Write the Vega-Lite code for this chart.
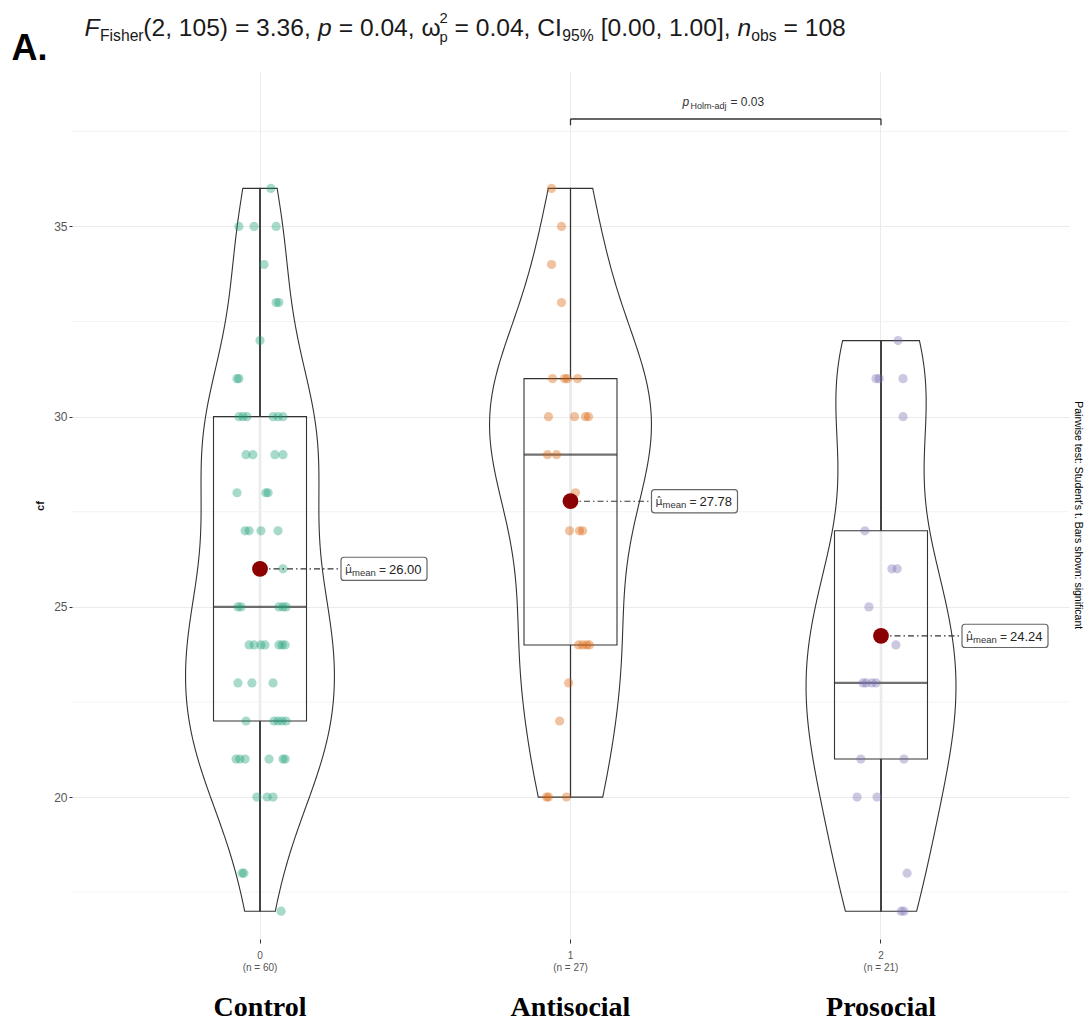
{
"$schema": "https://vega.github.io/schema/vega-lite/v6.json",
"background": "white",
"autosize": {"type": "none"},
"padding": {"left": 72, "top": 72, "right": 23, "bottom": 83},
"width": 997,
"height": 867,
"config": {"view": {"stroke": null}},
"datasets": {
"pts": [
{"group":"0","cf":36,"jit":0.035},
{"group":"0","cf":35,"jit":-0.068},{"group":"0","cf":35,"jit":-0.019},{"group":"0","cf":35,"jit":0.052},
{"group":"0","cf":34,"jit":0.013},
{"group":"0","cf":33,"jit":0.052},{"group":"0","cf":33,"jit":0.061},
{"group":"0","cf":32,"jit":0.0},
{"group":"0","cf":31,"jit":-0.074},{"group":"0","cf":31,"jit":-0.068},
{"group":"0","cf":30,"jit":-0.068},{"group":"0","cf":30,"jit":-0.055},{"group":"0","cf":30,"jit":-0.042},{"group":"0","cf":30,"jit":0.042},{"group":"0","cf":30,"jit":0.058},{"group":"0","cf":30,"jit":0.074},
{"group":"0","cf":29,"jit":-0.045},{"group":"0","cf":29,"jit":-0.023},{"group":"0","cf":29,"jit":0.048},{"group":"0","cf":29,"jit":0.074},
{"group":"0","cf":28,"jit":-0.074},{"group":"0","cf":28,"jit":0.019},{"group":"0","cf":28,"jit":0.026},
{"group":"0","cf":27,"jit":-0.048},{"group":"0","cf":27,"jit":-0.035},{"group":"0","cf":27,"jit":0.003},{"group":"0","cf":27,"jit":0.058},
{"group":"0","cf":26,"jit":0.074},
{"group":"0","cf":25,"jit":-0.071},{"group":"0","cf":25,"jit":-0.061},{"group":"0","cf":25,"jit":0.061},{"group":"0","cf":25,"jit":0.074},{"group":"0","cf":25,"jit":0.084},
{"group":"0","cf":24,"jit":-0.035},{"group":"0","cf":24,"jit":-0.019},{"group":"0","cf":24,"jit":0.003},{"group":"0","cf":24,"jit":0.016},{"group":"0","cf":24,"jit":0.061},{"group":"0","cf":24,"jit":0.071},{"group":"0","cf":24,"jit":0.081},
{"group":"0","cf":23,"jit":-0.071},{"group":"0","cf":23,"jit":-0.026},{"group":"0","cf":23,"jit":0.042},
{"group":"0","cf":22,"jit":-0.045},{"group":"0","cf":22,"jit":0.045},{"group":"0","cf":22,"jit":0.058},{"group":"0","cf":22,"jit":0.071},{"group":"0","cf":22,"jit":0.084},
{"group":"0","cf":21,"jit":-0.077},{"group":"0","cf":21,"jit":-0.065},{"group":"0","cf":21,"jit":-0.048},{"group":"0","cf":21,"jit":0.029},{"group":"0","cf":21,"jit":0.074},{"group":"0","cf":21,"jit":0.081},
{"group":"0","cf":20,"jit":-0.01},{"group":"0","cf":20,"jit":0.023},{"group":"0","cf":20,"jit":0.042},
{"group":"0","cf":18,"jit":-0.058},{"group":"0","cf":18,"jit":-0.052},
{"group":"0","cf":17,"jit":0.068},
{"group":"1","cf":36,"jit":-0.061},
{"group":"1","cf":35,"jit":-0.029},
{"group":"1","cf":34,"jit":-0.061},
{"group":"1","cf":33,"jit":-0.029},
{"group":"1","cf":31,"jit":-0.058},{"group":"1","cf":31,"jit":-0.019},{"group":"1","cf":31,"jit":-0.01},{"group":"1","cf":31,"jit":0.023},
{"group":"1","cf":30,"jit":-0.071},{"group":"1","cf":30,"jit":0.013},{"group":"1","cf":30,"jit":0.048},{"group":"1","cf":30,"jit":0.058},
{"group":"1","cf":29,"jit":-0.074},{"group":"1","cf":29,"jit":-0.045},
{"group":"1","cf":28,"jit":0.016},
{"group":"1","cf":27,"jit":-0.003},{"group":"1","cf":27,"jit":0.029},{"group":"1","cf":27,"jit":0.039},
{"group":"1","cf":24,"jit":0.026},{"group":"1","cf":24,"jit":0.039},{"group":"1","cf":24,"jit":0.052},{"group":"1","cf":24,"jit":0.061},
{"group":"1","cf":23,"jit":-0.006},
{"group":"1","cf":22,"jit":-0.035},
{"group":"1","cf":20,"jit":-0.077},{"group":"1","cf":20,"jit":-0.071},{"group":"1","cf":20,"jit":-0.013},
{"group":"2","cf":32,"jit":0.055},
{"group":"2","cf":31,"jit":-0.016},{"group":"2","cf":31,"jit":-0.006},{"group":"2","cf":31,"jit":0.071},
{"group":"2","cf":30,"jit":0.071},
{"group":"2","cf":27,"jit":-0.052},
{"group":"2","cf":26,"jit":0.035},{"group":"2","cf":26,"jit":0.052},
{"group":"2","cf":25,"jit":-0.039},
{"group":"2","cf":24,"jit":0.048},
{"group":"2","cf":23,"jit":-0.058},{"group":"2","cf":23,"jit":-0.048},{"group":"2","cf":23,"jit":-0.029},{"group":"2","cf":23,"jit":-0.016},
{"group":"2","cf":21,"jit":-0.065},{"group":"2","cf":21,"jit":0.074},
{"group":"2","cf":20,"jit":-0.077},{"group":"2","cf":20,"jit":-0.013},
{"group":"2","cf":18,"jit":0.084},
{"group":"2","cf":17,"jit":0.065},{"group":"2","cf":17,"jit":0.074}
],
"one": [{"k": 1}],
"names": [{"group":"0","name":"Control"},{"group":"1","name":"Antisocial"},{"group":"2","name":"Prosocial"}],
"minor": [{"v":17.5},{"v":22.5},{"v":27.5},{"v":32.5},{"v":37.5}]
},
"resolve": {"scale": {"x": "independent"}, "axis": {"x": "independent"}},
"layer": [
{
"data": {"name": "minor"},
"mark": {"type": "rule", "color": "#f0f0f0", "strokeWidth": 0.8},
"encoding": {"y": {"field": "v", "type": "quantitative", "scale": {"domain": [16.27, 39.06], "nice": false, "zero": false}}}
},
{
"data": {"name": "pts"},
"transform": [{"filter": {"field": "group", "equal": "0"}}, {"density": "cf", "bandwidth": 1.9, "extent": [17, 36], "steps": 200, "as": ["cf", "density"]}],
"mark": {"type": "area", "orient": "horizontal", "fillOpacity": 0, "stroke": "#333333", "strokeWidth": 1.1},
"encoding": {
"y": {"field": "cf", "type": "quantitative", "scale": {"domain": [16.27, 39.06], "nice": false, "zero": false}},
"x": {"field": "density", "type": "quantitative", "scale": {"domain": [-0.1907, 0.8207], "nice": false, "zero": false}, "axis": null}
}
},
{
"data": {"name": "pts"},
"transform": [{"filter": {"field": "group", "equal": "0"}}, {"density": "cf", "bandwidth": 1.9, "extent": [17, 36], "steps": 200, "as": ["cf", "density"]}],
"mark": {"type": "area", "orient": "horizontal", "fillOpacity": 0, "stroke": "#333333", "strokeWidth": 1.1},
"encoding": {
"y": {"field": "cf", "type": "quantitative", "scale": {"domain": [16.27, 39.06], "nice": false, "zero": false}},
"x": {"field": "density", "type": "quantitative", "scale": {"domain": [-0.8207, 0.1907], "reverse": true, "nice": false, "zero": false}, "axis": null}
}
},
{
"data": {"name": "pts"},
"transform": [{"filter": {"field": "group", "equal": "1"}}, {"density": "cf", "bandwidth": 2.14, "extent": [20, 36], "steps": 200, "as": ["cf", "density"]}],
"mark": {"type": "area", "orient": "horizontal", "fillOpacity": 0, "stroke": "#333333", "strokeWidth": 1.1},
"encoding": {
"y": {"field": "cf", "type": "quantitative", "scale": {"domain": [16.27, 39.06], "nice": false, "zero": false}},
"x": {"field": "density", "type": "quantitative", "scale": {"domain": [-0.5057, 0.5057], "nice": false, "zero": false}, "axis": null}
}
},
{
"data": {"name": "pts"},
"transform": [{"filter": {"field": "group", "equal": "1"}}, {"density": "cf", "bandwidth": 2.14, "extent": [20, 36], "steps": 200, "as": ["cf", "density"]}],
"mark": {"type": "area", "orient": "horizontal", "fillOpacity": 0, "stroke": "#333333", "strokeWidth": 1.1},
"encoding": {
"y": {"field": "cf", "type": "quantitative", "scale": {"domain": [16.27, 39.06], "nice": false, "zero": false}},
"x": {"field": "density", "type": "quantitative", "scale": {"domain": [-0.5057, 0.5057], "reverse": true, "nice": false, "zero": false}, "axis": null}
}
},
{
"data": {"name": "pts"},
"transform": [{"filter": {"field": "group", "equal": "2"}}, {"density": "cf", "bandwidth": 2.19, "extent": [17, 32], "steps": 200, "as": ["cf", "density"]}],
"mark": {"type": "area", "orient": "horizontal", "fillOpacity": 0, "stroke": "#333333", "strokeWidth": 1.1},
"encoding": {
"y": {"field": "cf", "type": "quantitative", "scale": {"domain": [16.27, 39.06], "nice": false, "zero": false}},
"x": {"field": "density", "type": "quantitative", "scale": {"domain": [-0.8207, 0.1907], "nice": false, "zero": false}, "axis": null}
}
},
{
"data": {"name": "pts"},
"transform": [{"filter": {"field": "group", "equal": "2"}}, {"density": "cf", "bandwidth": 2.19, "extent": [17, 32], "steps": 200, "as": ["cf", "density"]}],
"mark": {"type": "area", "orient": "horizontal", "fillOpacity": 0, "stroke": "#333333", "strokeWidth": 1.1},
"encoding": {
"y": {"field": "cf", "type": "quantitative", "scale": {"domain": [16.27, 39.06], "nice": false, "zero": false}},
"x": {"field": "density", "type": "quantitative", "scale": {"domain": [-0.1907, 0.8207], "reverse": true, "nice": false, "zero": false}, "axis": null}
}
},
{
"data": {"name": "pts"},
"encoding": {
"x": {"field": "group", "type": "nominal",
"scale": {"type": "band", "domain": ["0", "1", "2"], "paddingInner": 0, "paddingOuter": 0.1055},
"axis": {"title": null, "labelAngle": 0, "grid": true, "gridColor": "#ebebeb", "gridWidth": 1, "domain": false, "ticks": true, "tickSize": 4, "tickColor": "#333333", "labelColor": "#555555", "labelFontSize": 10, "labelFont": "Liberation Sans", "labelPadding": 7, "labelLineHeight": 12, "bandPosition": 0.5,
"labelExpr": "datum.value == '0' ? ['0', '(n = 60)'] : datum.value == '1' ? ['1', '(n = 27)'] : ['2', '(n = 21)']"}}
},
"layer": [
{
"mark": {"type": "rule", "color": "#ebebeb", "strokeWidth": 2.6},
"encoding": {
"y": {"aggregate": "q1", "field": "cf", "type": "quantitative", "scale": {"domain": [16.27, 39.06], "nice": false, "zero": false}},
"y2": {"aggregate": "q3", "field": "cf"}
}
},
{
"mark": {"type": "boxplot", "extent": "min-max", "size": 93, "ticks": false, "outliers": false,
"box": {"fill": "white", "fillOpacity": 0, "stroke": "#333333", "strokeWidth": 1.1},
"median": {"color": "#333333", "thickness": 2.2},
"rule": {"color": "#333333", "strokeWidth": 1.1}},
"encoding": {
"y": {"field": "cf", "type": "quantitative", "scale": {"domain": [16.27, 39.06], "nice": false, "zero": false}}
}
},
{
"mark": {"type": "circle", "size": 85, "opacity": 0.38},
"encoding": {
"xOffset": {"field": "jit", "type": "quantitative", "scale": {"domain": [-0.5, 0.5]}},
"y": {"field": "cf", "type": "quantitative", "scale": {"domain": [16.27, 39.06], "nice": false, "zero": false},
"axis": {"title": "cf", "values": [20, 25, 30, 35], "grid": true, "gridColor": "#ebebeb", "domain": false, "ticks": true, "tickSize": 3, "tickColor": "#333333", "labelFontSize": 12, "labelColor": "#555555", "labelFont": "Liberation Sans", "labelPadding": 2, "titleFontSize": 11, "titleFont": "Liberation Sans", "titleFontWeight": "bold", "titleColor": "#111111", "titlePadding": 8}},
"color": {"field": "group", "type": "nominal", "scale": {"domain": ["0", "1", "2"], "range": ["#1b9e77", "#d95f02", "#7570b3"]}, "legend": null}
}
},
{
"mark": {"type": "point", "shape": "M0,0L1,0", "size": 26244, "filled": false, "color": "#333333", "strokeWidth": 1.1, "strokeDash": [6, 3, 1.5, 3], "opacity": 1},
"encoding": {"y": {"aggregate": "mean", "field": "cf", "type": "quantitative", "scale": {"domain": [16.27, 39.06], "nice": false, "zero": false}}}
},
{
"mark": {"type": "point", "shape": "M-0.93,-0.27L0.93,-0.27Q1,-0.27,1,-0.2L1,0.2Q1,0.27,0.93,0.27L-0.93,0.27Q-1,0.27,-1,0.2L-1,-0.2Q-1,-0.27,-0.93,-0.27Z", "size": 7396, "filled": true, "fill": "white", "stroke": "#666666", "strokeWidth": 1.2, "xOffset": 124, "opacity": 1},
"encoding": {"y": {"aggregate": "mean", "field": "cf", "type": "quantitative", "scale": {"domain": [16.27, 39.06], "nice": false, "zero": false}}}
},
{
"mark": {"type": "text", "text": "μ̂", "font": "DejaVu Sans", "fontSize": 11, "align": "left", "baseline": "middle", "dx": 85, "dy": 1, "color": "#333333"},
"encoding": {"y": {"aggregate": "mean", "field": "cf", "type": "quantitative", "scale": {"domain": [16.27, 39.06], "nice": false, "zero": false}}}
},
{
"mark": {"type": "text", "text": "mean", "font": "Liberation Sans", "fontSize": 9.5, "align": "left", "baseline": "middle", "dx": 92, "dy": 4, "color": "#333333"},
"encoding": {"y": {"aggregate": "mean", "field": "cf", "type": "quantitative", "scale": {"domain": [16.27, 39.06], "nice": false, "zero": false}}}
},
{
"mark": {"type": "text", "text": "=", "font": "Liberation Sans", "fontSize": 12, "align": "left", "baseline": "middle", "dx": 119, "dy": 1, "color": "#333333"},
"encoding": {"y": {"aggregate": "mean", "field": "cf", "type": "quantitative", "scale": {"domain": [16.27, 39.06], "nice": false, "zero": false}}}
},
{
"mark": {"type": "text", "font": "Liberation Sans", "fontSize": 13, "align": "left", "baseline": "middle", "dx": 129, "dy": 1, "color": "#222222"},
"encoding": {
"y": {"aggregate": "mean", "field": "cf", "type": "quantitative", "scale": {"domain": [16.27, 39.06], "nice": false, "zero": false}},
"text": {"aggregate": "mean", "field": "cf", "type": "quantitative", "format": ".2f"}
}
},
{
"mark": {"type": "circle", "size": 250, "color": "#8b0000", "opacity": 1},
"encoding": {"y": {"aggregate": "mean", "field": "cf", "type": "quantitative", "scale": {"domain": [16.27, 39.06], "nice": false, "zero": false}}}
},
{
"data": {"name": "one"},
"mark": {"type": "rule", "color": "#333333", "strokeWidth": 1.3},
"encoding": {
"x": {"datum": "1", "type": "nominal"},
"x2": {"datum": "2"},
"y": {"datum": 37.825, "type": "quantitative"}
}
},
{
"data": {"name": "one"},
"mark": {"type": "rule", "color": "#333333", "strokeWidth": 1.3},
"encoding": {
"x": {"datum": "1", "type": "nominal"},
"y": {"datum": 37.825, "type": "quantitative"},
"y2": {"datum": 37.66}
}
},
{
"data": {"name": "one"},
"mark": {"type": "rule", "color": "#333333", "strokeWidth": 1.3},
"encoding": {
"x": {"datum": "2", "type": "nominal"},
"y": {"datum": 37.825, "type": "quantitative"},
"y2": {"datum": 37.66}
}
},
{
"data": {"name": "one"},
"mark": {"type": "text", "text": "p", "font": "Liberation Sans", "fontSize": 12, "fontStyle": "italic", "align": "left", "baseline": "alphabetic", "dx": 112, "color": "#333333"},
"encoding": {"x": {"datum": "1", "type": "nominal"}, "y": {"datum": 38.17, "type": "quantitative"}}
},
{
"data": {"name": "one"},
"mark": {"type": "text", "text": "Holm-adj", "font": "Liberation Sans", "fontSize": 9, "align": "left", "baseline": "alphabetic", "dx": 120, "dy": 3, "color": "#333333"},
"encoding": {"x": {"datum": "1", "type": "nominal"}, "y": {"datum": 38.17, "type": "quantitative"}}
},
{
"data": {"name": "one"},
"mark": {"type": "text", "text": "= 0.03", "font": "Liberation Sans", "fontSize": 12, "align": "left", "baseline": "alphabetic", "dx": 160, "color": "#333333"},
"encoding": {"x": {"datum": "1", "type": "nominal"}, "y": {"datum": 38.17, "type": "quantitative"}}
},
{
"data": {"name": "one"},
"mark": {"type": "text", "text": "A.", "font": "Liberation Sans", "fontSize": 36, "fontWeight": "bold", "align": "left", "baseline": "alphabetic", "dx": -248.5, "dy": 24, "color": "#000000"},
"encoding": {"x": {"datum": "0", "type": "nominal"}, "y": {"datum": 40, "type": "quantitative"}}
},
{
"data": {"name": "one"},
"mark": {"type": "text", "text": "F", "font": "Liberation Sans", "fontSize": 24.6, "fontStyle": "italic", "align": "left", "baseline": "alphabetic", "dx": -175.5, "color": "#1a1a1a"},
"encoding": {"x": {"datum": "0", "type": "nominal"}, "y": {"datum": 40, "type": "quantitative"}}
},
{
"data": {"name": "one"},
"mark": {"type": "text", "text": "Fisher", "font": "Liberation Sans", "fontSize": 15.7, "align": "left", "baseline": "alphabetic", "dx": -160, "dy": 5, "color": "#1a1a1a"},
"encoding": {"x": {"datum": "0", "type": "nominal"}, "y": {"datum": 40, "type": "quantitative"}}
},
{
"data": {"name": "one"},
"mark": {"type": "text", "text": "(2, 105) = 3.36,", "font": "Liberation Sans", "fontSize": 24.6, "align": "left", "baseline": "alphabetic", "dx": -116.7, "color": "#1a1a1a"},
"encoding": {"x": {"datum": "0", "type": "nominal"}, "y": {"datum": 40, "type": "quantitative"}}
},
{
"data": {"name": "one"},
"mark": {"type": "text", "text": "p", "font": "Liberation Sans", "fontSize": 24.6, "fontStyle": "italic", "align": "left", "baseline": "alphabetic", "dx": 58.1, "color": "#1a1a1a"},
"encoding": {"x": {"datum": "0", "type": "nominal"}, "y": {"datum": 40, "type": "quantitative"}}
},
{
"data": {"name": "one"},
"mark": {"type": "text", "text": "= 0.04, ω", "font": "Liberation Sans", "fontSize": 24.6, "align": "left", "baseline": "alphabetic", "dx": 78.7, "color": "#1a1a1a"},
"encoding": {"x": {"datum": "0", "type": "nominal"}, "y": {"datum": 40, "type": "quantitative"}}
},
{
"data": {"name": "one"},
"mark": {"type": "text", "text": "2", "font": "Liberation Sans", "fontSize": 14.8, "align": "left", "baseline": "alphabetic", "dx": 179.5, "dy": -13, "color": "#1a1a1a"},
"encoding": {"x": {"datum": "0", "type": "nominal"}, "y": {"datum": 40, "type": "quantitative"}}
},
{
"data": {"name": "one"},
"mark": {"type": "text", "text": "p", "font": "Liberation Sans", "fontSize": 14.8, "align": "left", "baseline": "alphabetic", "dx": 179.5, "dy": 6, "color": "#1a1a1a"},
"encoding": {"x": {"datum": "0", "type": "nominal"}, "y": {"datum": 40, "type": "quantitative"}}
},
{
"data": {"name": "one"},
"mark": {"type": "text", "text": "= 0.04, CI", "font": "Liberation Sans", "fontSize": 24.6, "align": "left", "baseline": "alphabetic", "dx": 194.5, "color": "#1a1a1a"},
"encoding": {"x": {"datum": "0", "type": "nominal"}, "y": {"datum": 40, "type": "quantitative"}}
},
{
"data": {"name": "one"},
"mark": {"type": "text", "text": "95%", "font": "Liberation Sans", "fontSize": 15.7, "align": "left", "baseline": "alphabetic", "dx": 302.2, "dy": 5, "color": "#1a1a1a"},
"encoding": {"x": {"datum": "0", "type": "nominal"}, "y": {"datum": 40, "type": "quantitative"}}
},
{
"data": {"name": "one"},
"mark": {"type": "text", "text": "[0.00, 1.00],", "font": "Liberation Sans", "fontSize": 24.6, "align": "left", "baseline": "alphabetic", "dx": 340.7, "color": "#1a1a1a"},
"encoding": {"x": {"datum": "0", "type": "nominal"}, "y": {"datum": 40, "type": "quantitative"}}
},
{
"data": {"name": "one"},
"mark": {"type": "text", "text": "n", "font": "Liberation Sans", "fontSize": 24.6, "fontStyle": "italic", "align": "left", "baseline": "alphabetic", "dx": 477.5, "color": "#1a1a1a"},
"encoding": {"x": {"datum": "0", "type": "nominal"}, "y": {"datum": 40, "type": "quantitative"}}
},
{
"data": {"name": "one"},
"mark": {"type": "text", "text": "obs", "font": "Liberation Sans", "fontSize": 15.7, "align": "left", "baseline": "alphabetic", "dx": 491.2, "dy": 5, "color": "#1a1a1a"},
"encoding": {"x": {"datum": "0", "type": "nominal"}, "y": {"datum": 40, "type": "quantitative"}}
},
{
"data": {"name": "one"},
"mark": {"type": "text", "text": "= 108", "font": "Liberation Sans", "fontSize": 24.6, "align": "left", "baseline": "alphabetic", "dx": 523.5, "color": "#1a1a1a"},
"encoding": {"x": {"datum": "0", "type": "nominal"}, "y": {"datum": 40, "type": "quantitative"}}
},
{
"data": {"name": "one"},
"mark": {"type": "text", "text": "Pairwise test: Student's t. Bars shown: significant", "font": "Liberation Sans", "fontSize": 10.5, "angle": 90, "align": "center", "baseline": "middle", "xOffset": 197, "color": "#000000"},
"encoding": {"x": {"datum": "2", "type": "nominal"}, "y": {"datum": 27.41, "type": "quantitative"}}
},
{
"data": {"name": "names"},
"mark": {"type": "text", "font": "Liberation Serif", "fontSize": 28, "fontWeight": "bold", "align": "center", "baseline": "alphabetic", "color": "#000000"},
"encoding": {"y": {"datum": 14.24, "type": "quantitative"}, "text": {"field": "name", "type": "nominal"}}
}
]
}
]
}
